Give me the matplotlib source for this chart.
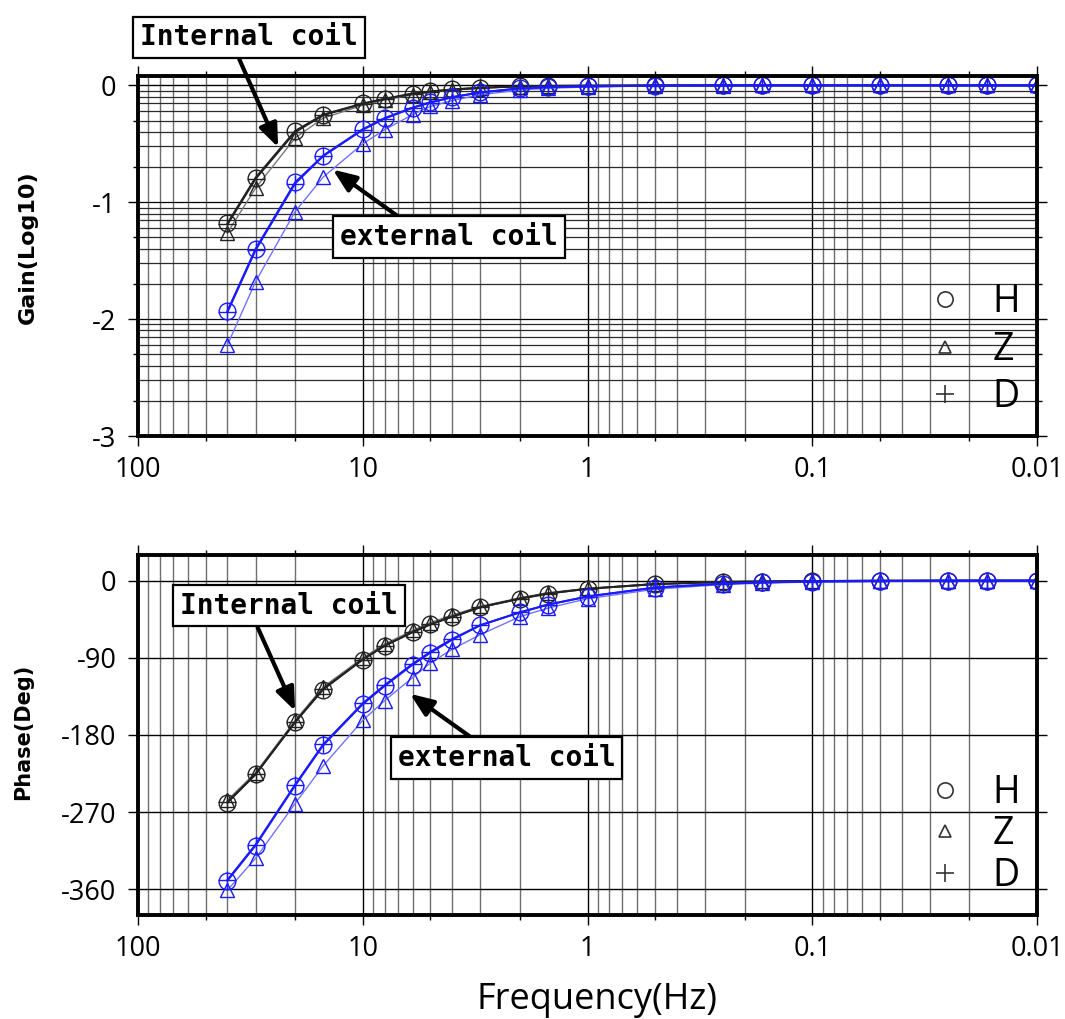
import matplotlib
matplotlib.use('Agg')
import matplotlib.pyplot as plt
from matplotlib.lines import Line2D
import numpy as np

# frequencies (Hz), plotted on a reversed log axis
freq = [40, 30, 20, 15, 10, 8, 6, 5, 4, 3, 2, 1.5, 1, 0.5, 0.25, 0.1667,
        0.1, 0.05, 0.025, 0.01667, 0.01]

# gain, log10 units
gain_int_H = [-1.18, -0.79, -0.39, -0.25, -0.155, -0.115, -0.07, -0.052, -0.035, -0.02,
              -0.008, -0.005, -0.003, -0.001, 0, 0, 0, 0, 0, 0, 0]
gain_int_Z = [-1.26, -0.88, -0.45, -0.28, -0.17, -0.125, -0.08, -0.06, -0.04, -0.025,
              -0.01, -0.006, -0.003, -0.001, 0, 0, 0, 0, 0, 0, 0]
gain_int_D = [-1.19, -0.80, -0.40, -0.255, -0.158, -0.117, -0.072, -0.053, -0.036, -0.021,
              -0.008, -0.005, -0.003, -0.001, 0, 0, 0, 0, 0, 0, 0]
gain_ext_H = [-1.93, -1.40, -0.83, -0.60, -0.375, -0.28, -0.19, -0.145, -0.10, -0.06,
              -0.025, -0.015, -0.008, -0.003, -0.001, 0, 0, 0, 0, 0, 0]
gain_ext_Z = [-2.22, -1.68, -1.08, -0.785, -0.50, -0.38, -0.25, -0.18, -0.13, -0.08,
              -0.04, -0.025, -0.014, -0.005, -0.002, -0.001, 0, 0, 0, 0, 0]
gain_ext_D = [-1.94, -1.41, -0.84, -0.605, -0.38, -0.285, -0.192, -0.147, -0.102, -0.061,
              -0.026, -0.015, -0.008, -0.003, -0.001, 0, 0, 0, 0, 0, 0]

# phase, degrees
phase_int_H = [-259, -226, -165, -127, -92, -76, -60, -51, -42, -31, -21, -15, -9.5,
               -4, -1.5, -1, -0.5, 0, 0, 0, 0]
phase_int_Z = [-256, -224, -163, -124, -90, -74, -58, -49, -40, -30, -20, -14, -9,
               -3.5, -1.2, -0.8, -0.4, 0, 0, 0, 0]
phase_int_D = [-258, -226, -165, -126, -92, -76, -60, -51, -42, -31, -21, -15, -9.5,
               -4, -1.5, -1, -0.5, 0, 0, 0, 0]
phase_ext_H = [-350, -309, -239, -192, -144, -123, -98, -84, -69, -52, -37, -28, -18.5,
               -8, -3.5, -2, -1, -0.5, 0, 0, 0]
phase_ext_Z = [-361, -324, -260, -216, -163, -140, -113, -96, -80, -63, -42, -32, -21,
               -10, -4.5, -3, -1.5, -0.5, -0.2, 0, 0]
phase_ext_D = [-349, -308, -238, -191, -143, -122, -97, -83, -68, -52, -37, -28, -18.5,
               -8, -3.5, -2, -1, -0.5, 0, 0, 0]

xtick_vals = [100, 10, 1, 0.1, 0.01]
xtick_labels = ['100', '10', '1', '0.1', '0.01']
gain_ticks = [0, -1, -2, -3]
phase_ticks = [0, -90, -180, -270, -360]

plt.rcParams['font.family'] = ['Open Sans', 'DejaVu Sans']
plt.rcParams['axes.unicode_minus'] = False

fig = plt.figure(figsize=(10.65, 10.19), dpi=100)
ax1 = fig.add_axes([0.1296, 0.5721, 0.8441, 0.3533])
ax2 = fig.add_axes([0.1296, 0.1021, 0.8441, 0.3533])

BLACK = '#222222'
BLUE = '#1a1aff'
TICKSIZE = 19.5


def style_axes(ax):
    ax.set_xscale('log')
    ax.set_xticks(xtick_vals)
    ax.set_xticklabels(xtick_labels, fontsize=TICKSIZE)
    ax.set_xticks([50, 20, 5, 2, 0.5, 0.2, 0.05, 0.02], minor=True)
    ax.xaxis.set_minor_formatter(matplotlib.ticker.NullFormatter())
    for d in [0.01, 0.1, 1, 10]:
        for k in range(1, 10):
            ax.axvline(k * d, color='black' if k == 1 else '#6e6e6e', lw=1.0, zorder=1)
    ax.set_xlim(100, 0.01)
    ax.tick_params(which='both', direction='out', top=True, right=True,
                   labelsize=TICKSIZE, width=1.0, color='black')
    ax.tick_params(which='major', length=7.5, pad=8)
    ax.tick_params(which='minor', length=3.8)
    ax.tick_params(axis='x', which='major', pad=7)
    for s in ax.spines.values():
        s.set_linewidth(2.8)
        s.set_zorder(5)


def draw_series(ax, yH, yZ, yD, col, zcol, lw):
    ax.plot(freq, yZ, color=zcol, lw=lw * 0.7, marker='^', ms=10, mfc='none',
            mec=col, mew=1.0, zorder=3)
    ax.plot(freq, yD, color=col, lw=lw, marker='+', ms=13, mec=col, mew=1.0, zorder=3)
    ax.plot(freq, yH, color=col, lw=lw, marker='o', ms=12, mfc='none',
            mec=col, mew=1.0, zorder=3)


def add_legend(ax, anchor_y, spacing):
    handles = [Line2D([], [], ls='none', marker='o', ms=11, mfc='none', mec='#333333', mew=1.2),
               Line2D([], [], ls='none', marker='^', ms=9, mfc='none', mec='#333333', mew=1.2),
               Line2D([], [], ls='none', marker='+', ms=13, mec='#333333', mew=1.2)]
    ax.legend(handles, ['H', 'Z', 'D'], loc='lower right', bbox_to_anchor=(0.981, anchor_y),
              frameon=False, fontsize=27, handlelength=1.0, handletextpad=0.75,
              labelspacing=spacing, borderaxespad=0.0, borderpad=0.0)


def box_label(ax, text, xy, xytext, rel):
    ax.annotate(text, xy=xy, xytext=xytext, xycoords='data', textcoords='data',
                ha='center', va='center', fontsize=20, fontweight='bold',
                family=['DejaVu Sans Mono'], annotation_clip=False, zorder=10,
                bbox=dict(boxstyle='square,pad=0.25', fc='white', ec='black', lw=1.6),
                arrowprops=dict(arrowstyle='-|>,head_length=0.7,head_width=0.28',
                                lw=3, color='black', mutation_scale=20,
                                relpos=rel, shrinkA=0, shrinkB=0))


# ---- gain panel
style_axes(ax1)
ax1.set_ylim(-3, 0.08)
ax1.set_yticks(gain_ticks)
ax1.set_yticklabels([str(v) for v in gain_ticks], fontsize=TICKSIZE)
ax1.set_yticks([n + np.log10(k) for n in (-3, -2, -1) for k in (2, 5)], minor=True)
ax1.yaxis.set_minor_formatter(matplotlib.ticker.NullFormatter())
for n in (-3, -2, -1):
    for k in range(1, 10):
        ax1.axhline(n + np.log10(k), color='black' if k == 1 else '#2a2a2a', lw=0.9, zorder=1)
ax1.axhline(0, color='black', lw=1.0, zorder=1)

draw_series(ax1, gain_int_H, gain_int_Z, gain_int_D, BLACK, '#777777', 1.4)
draw_series(ax1, gain_ext_H, gain_ext_Z, gain_ext_D, BLUE, '#7070ff', 1.4)
add_legend(ax1, 0.055, 0.25)
box_label(ax1, 'Internal coil', (23.8, -0.53), (32.1, 0.41), (0.44, 0.0))
box_label(ax1, 'external coil', (13.6, -0.72), (4.13, -1.30), (0.31, 1.0))

# ---- phase panel
style_axes(ax2)
ax2.set_ylim(-390, 30)
ax2.set_yticks(phase_ticks)
ax2.set_yticklabels([str(v) for v in phase_ticks], fontsize=TICKSIZE)
for v in phase_ticks:
    ax2.axhline(v, color='black', lw=1.0, zorder=1)

draw_series(ax2, phase_int_H, phase_int_Z, phase_int_D, BLACK, '#777777', 1.4)
draw_series(ax2, phase_ext_H, phase_ext_Z, phase_ext_D, BLUE, '#7070ff', 1.4)
add_legend(ax2, 0.055, 0.1)
box_label(ax2, 'Internal coil', (20.0, -152), (21.3, -29), (0.34, 0.0))
box_label(ax2, 'external coil', (6.16, -132), (2.29, -207), (0.38, 1.0))

# axis titles
fig.text(0.026, 1 - 247 / 1019, 'Gain(Log10)', rotation=90, ha='center', va='center',
         fontsize=16, fontweight='bold', family=['DejaVu Sans'])
fig.text(0.022, 1 - 732 / 1019, 'Phase(Deg)', rotation=90, ha='center', va='center',
         fontsize=15, fontweight='bold', family=['DejaVu Sans'])
fig.text(597 / 1065, 1 - 1000 / 1019, 'Frequency(Hz)', ha='center', va='center', fontsize=26)

fig.savefig('out.png', dpi=100)
